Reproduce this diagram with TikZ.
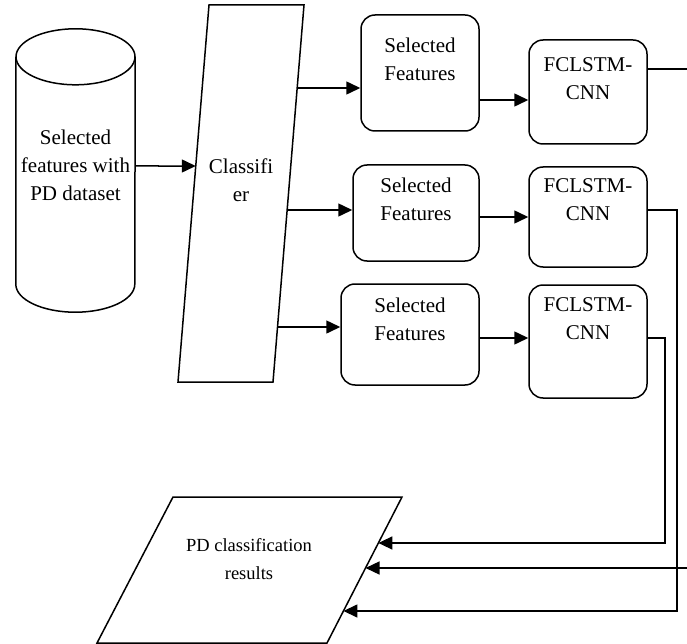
\documentclass[tikz,border=0pt]{standalone}
\usepackage{fontspec}
\setmainfont{Liberation Serif}
\usetikzlibrary{arrows.meta,calc}
\tikzset{
  % plain outline of a shape
  outline/.style={draw, line width=1.5pt, line join=miter},
  % rounded process box, #1 = text height (moves the text up)
  pbox/.style={rectangle, rounded corners=14pt, draw, line width=1.5pt, align=center,
               inner sep=0pt, text height=#1, text depth=13pt},
  pbox/.default={13pt},
  % plain text
  txt/.style={align=center, inner sep=0pt},
  % flow arrow
  flow/.style={-{Triangle[length=14pt,width=13pt]}, line width=1.5pt},
}

\begin{document}
\begin{tikzpicture}[x=1pt,y=-1pt,every node/.style={font=\fontsize{21}{28}\selectfont}]
  \useasboundingbox (0,0) rectangle (687,644);

  % data store
  \node[txt, minimum width=119pt, minimum height=227pt, text height=72.8pt, text depth=13pt] (data) at (75.5,170.5) {Selected\\features with\\PD dataset};
  \draw[outline] (data.north) ellipse [x radius=59.5, y radius=28];
  \draw[outline] (data.north west) -- (data.south west) arc [start angle=180, end angle=0, x radius=59.5, y radius=28] -- (data.north east);

  % classifier
  \coordinate (clf-bl) at (178,382);
  \coordinate (clf-tl) at (209,5);
  \coordinate (clf-tr) at (304,5);
  \coordinate (clf-br) at (273,382);
  \draw[outline] (clf-bl) -- (clf-tl) -- (clf-tr) -- (clf-br) -- cycle;
  \node[txt] (clf) at (241,180) {Classifi\\er};

  % results
  \coordinate (res-bl) at (97,643);
  \coordinate (res-tl) at (173,497);
  \coordinate (res-tr) at (402,497);
  \coordinate (res-br) at (327,643);
  \draw[outline] (res-bl) -- (res-tl) -- (res-tr) -- (res-br) -- cycle;
  \node[txt, font=\fontsize{18.5}{28}\selectfont] (res) at (249,559) {PD classification\\results};

  % selected features
  \node[pbox=27.8pt, minimum width=118pt, minimum height=116pt] (sf1) at (420,73) {Selected\\Features};
  \node[pbox=27.8pt, minimum width=126pt, minimum height=96pt] (sf2) at (416,213) {Selected\\Features};
  \node[pbox=24.8pt, minimum width=138pt, minimum height=101pt] (sf3) at (410,334.5) {Selected\\Features};

  % networks
  \node[pbox=27.8pt, minimum width=118pt, minimum height=104pt] (fc1) at (588,92) {FCLSTM-\\CNN};
  \node[pbox=19.8pt, minimum width=118pt, minimum height=100pt] (fc2) at (588,217) {FCLSTM-\\CNN};
  \node[pbox=8.8pt, minimum width=118pt, minimum height=113pt] (fc3) at (588,341.5) {FCLSTM-\\CNN};

  % data -> classifier
  \draw[flow] ([yshift=4.5pt]data.east) -- ($(clf-bl)!{216/377}!(clf-tl)$);

  % classifier -> selected features
  \coordinate (c1) at ($(clf-br)!{294/377}!(clf-tr)$);
  \coordinate (c2) at ($(clf-br)!{172/377}!(clf-tr)$);
  \coordinate (c3) at ($(clf-br)!{55/377}!(clf-tr)$);
  \draw[flow] (c1) -- (c1 -| sf1.west);
  \draw[flow] (c2) -- (c2 -| sf2.west);
  \draw[flow] (c3) -- (c3 -| sf3.west);

  % selected features -> networks
  \coordinate (s1) at ([yshift=-27pt]sf1.east);
  \coordinate (s2) at ([yshift=-4pt]sf2.east);
  \coordinate (s3) at ([yshift=-3.5pt]sf3.east);
  \draw[flow] (s1) -- (s1 -| fc1.west);
  \draw[flow] (s2) -- (s2 -| fc2.west);
  \draw[flow] (s3) -- (s3 -| fc3.west);

  % networks -> results
  \coordinate (o1) at ([yshift=23pt]fc1.east);
  \coordinate (o2) at ([yshift=7pt]fc2.east);
  \coordinate (o3) at ([yshift=3.5pt]fc3.east);
  \coordinate (g1) at (692,0);
  \coordinate (g2) at (677,0);
  \coordinate (g3) at (665,0);
  \coordinate (r1) at ($(res-tr)!{46/146}!(res-br)$);
  \coordinate (r2) at ($(res-tr)!{71/146}!(res-br)$);
  \coordinate (r3) at ($(res-tr)!{114/146}!(res-br)$);
  \draw[flow] (o1) -| (g1 |- r2) -- (r2);
  \draw[flow] (o2) -| (g2 |- r3) -- (r3);
  \draw[flow] (o3) -| (g3 |- r1) -- (r1);
\end{tikzpicture}
\end{document}
